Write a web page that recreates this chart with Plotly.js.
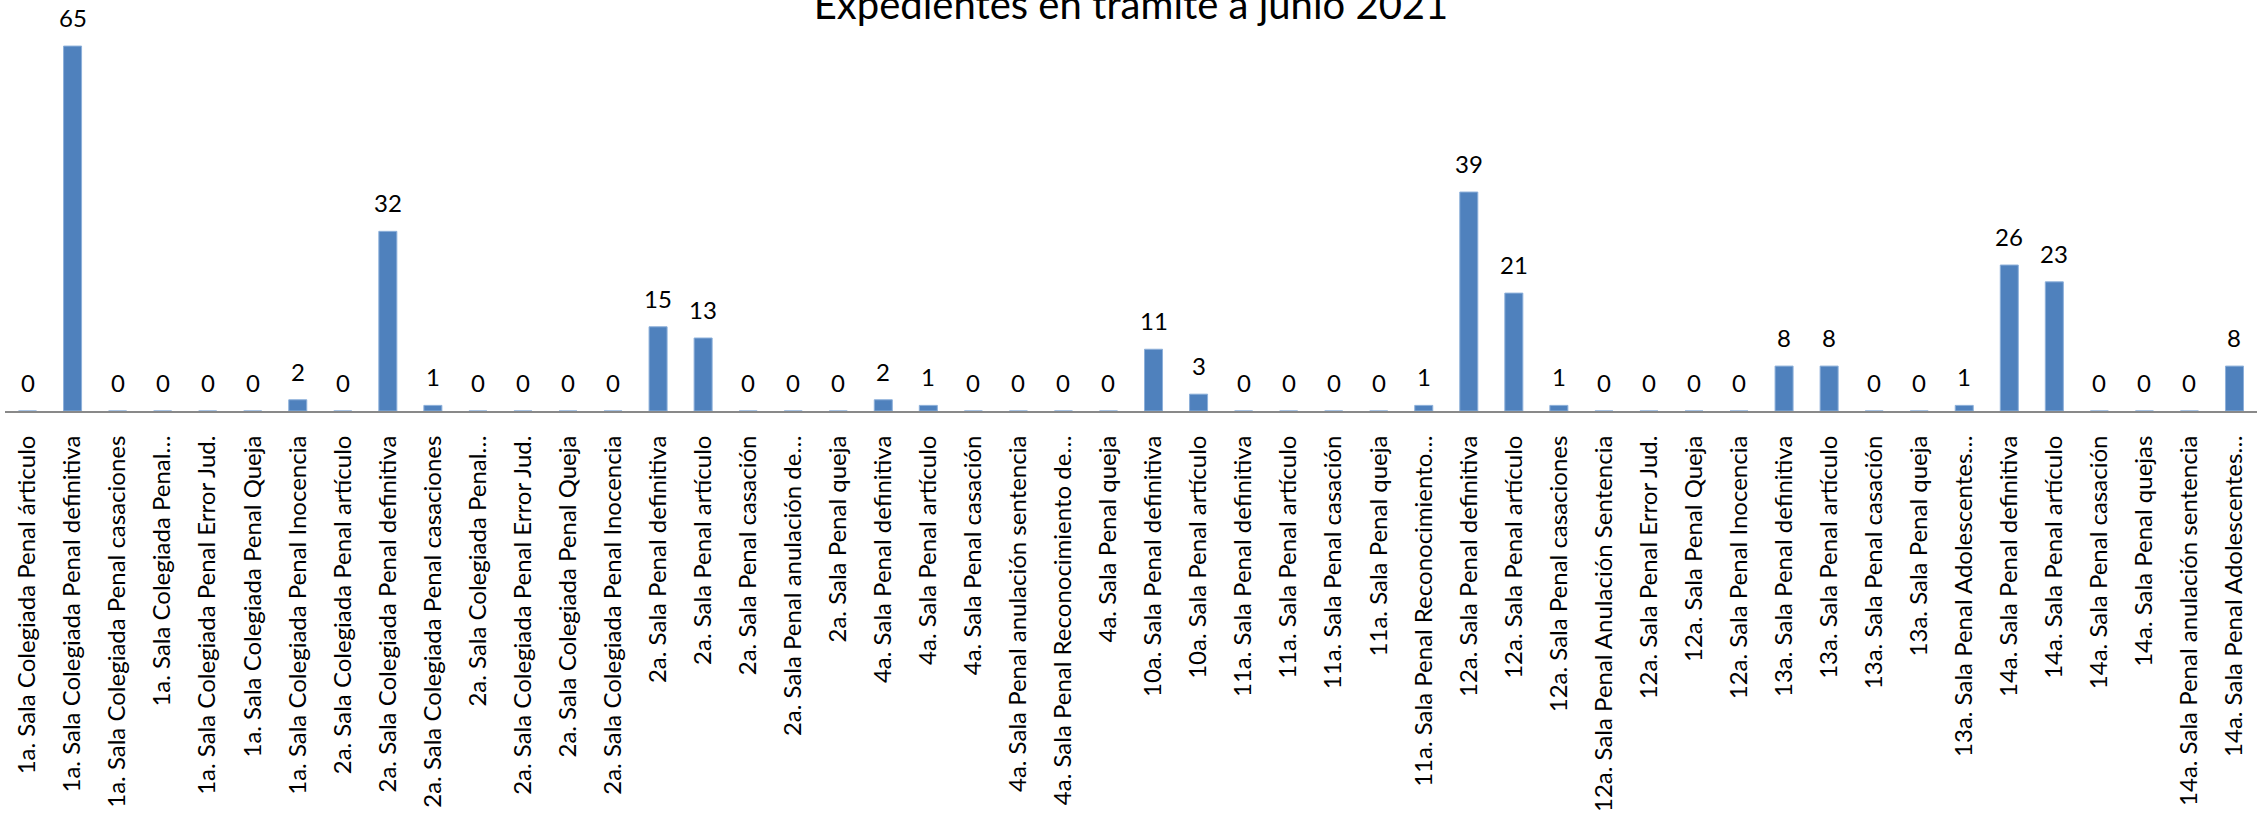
<!DOCTYPE html>
<html>
<head>
<meta charset="utf-8">
<script src="https://cdn.plot.ly/plotly-3.0.1.min.js"></script>
<style>
  html, body { margin: 0; padding: 0; background: #ffffff; }
  #chart { width: 2267px; height: 817px; }
</style>
</head>
<body>
<div id="chart"></div>
<script>
const chartTitle = "Expedientes en trámite a junio 2021";

const categories = [
  "1a. Sala Colegiada Penal árticulo",
  "1a. Sala Colegiada Penal definitiva",
  "1a. Sala Colegiada Penal casaciones",
  "1a. Sala Colegiada Penal…",
  "1a. Sala Colegiada Penal Error Jud.",
  "1a. Sala Colegiada Penal Queja",
  "1a. Sala Colegiada Penal Inocencia",
  "2a. Sala Colegiada Penal artículo",
  "2a. Sala Colegiada Penal definitiva",
  "2a. Sala Colegiada Penal casaciones",
  "2a. Sala Colegiada Penal…",
  "2a. Sala Colegiada Penal Error Jud.",
  "2a. Sala Colegiada Penal Queja",
  "2a. Sala Colegiada Penal Inocencia",
  "2a. Sala Penal definitiva",
  "2a. Sala Penal artículo",
  "2a. Sala Penal casación",
  "2a. Sala Penal anulación de…",
  "2a. Sala Penal queja",
  "4a. Sala Penal definitiva",
  "4a. Sala Penal artículo",
  "4a. Sala Penal casación",
  "4a. Sala Penal anulación sentencia",
  "4a. Sala Penal Reconocimiento de…",
  "4a. Sala Penal queja",
  "10a. Sala Penal definitiva",
  "10a. Sala Penal artículo",
  "11a. Sala Penal definitiva",
  "11a. Sala Penal artículo",
  "11a. Sala Penal casación",
  "11a. Sala Penal queja",
  "11a. Sala Penal Reconocimiento…",
  "12a. Sala Penal definitiva",
  "12a. Sala Penal artículo",
  "12a. Sala Penal casaciones",
  "12a. Sala Penal Anulación Sentencia",
  "12a. Sala Penal Error Jud.",
  "12a. Sala Penal Queja",
  "12a. Sala Penal Inocencia",
  "13a. Sala Penal definitiva",
  "13a. Sala Penal artículo",
  "13a. Sala Penal casación",
  "13a. Sala Penal queja",
  "13a. Sala Penal Adolescentes…",
  "14a. Sala Penal definitiva",
  "14a. Sala Penal artículo",
  "14a. Sala Penal casación",
  "14a. Sala Penal quejas",
  "14a. Sala Penal anulación sentencia",
  "14a. Sala Penal Adolescentes…"
];

const expedientes = [
  0, 65, 0, 0, 0, 0, 2, 0, 32, 1,
  0, 0, 0, 0, 15, 13, 0, 0, 0, 2,
  1, 0, 0, 0, 0, 11, 3, 0, 0, 0,
  0, 1, 39, 21, 1, 0, 0, 0, 0, 8,
  8, 0, 0, 1, 26, 23, 0, 0, 0, 8
];

const barTrace = {
  type: "bar",
  x: categories,
  y: expedientes,
  marker: { color: "#4F81BD", line: { color: "#8DB0DA", width: 1 } },
  hoverinfo: "skip"
};

const valueLabels = categories.map((c, i) => ({
  x: c,
  y: expedientes[i],
  xref: "x",
  yref: "y",
  text: String(expedientes[i]),
  showarrow: false,
  yanchor: "bottom",
  yshift: 12,
  font: { family: "Lato, 'Open Sans', sans-serif", size: 24, color: "#000000" }
}));

const layout = {
  width: 2267,
  height: 817,
  margin: { l: 5, r: 10, t: 18, b: 406, pad: 0 },
  paper_bgcolor: "#ffffff",
  plot_bgcolor: "#ffffff",
  showlegend: false,
  hovermode: false,
  bargap: 0.6,
  title: {
    text: chartTitle,
    x: 0.5,
    xanchor: "center",
    xref: "paper",
    yref: "container",
    y: 0.994,
    yanchor: "middle",
    font: { family: "Lato, 'Open Sans', sans-serif", size: 40, color: "#000000" }
  },
  xaxis: {
    type: "category",
    tickangle: -90,
    ticks: "",
    showgrid: false,
    zeroline: false,
    showline: true,
    linecolor: "#898989",
    linewidth: 2,
    automargin: false,
    ticklabelstandoff: 13,
    tickfont: { family: "Lato, 'Open Sans', sans-serif", size: 24, color: "#000000" }
  },
  yaxis: {
    range: [0, 70],
    visible: false,
    showgrid: false,
    zeroline: false,
    fixedrange: true
  },
  annotations: valueLabels
};

Plotly.newPlot("chart", [barTrace], layout, { displayModeBar: false, staticPlot: true });
</script>
</body>
</html>
